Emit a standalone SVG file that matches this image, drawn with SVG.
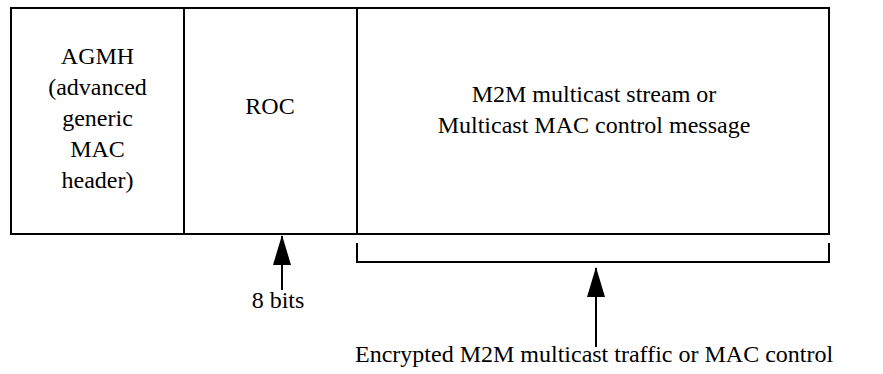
<svg xmlns="http://www.w3.org/2000/svg" width="883" height="374" viewBox="0 0 883 374">
  <defs>
    <style>
      .frame { fill: none; stroke: #000; stroke-width: 2; }
      .line { stroke: #000; stroke-width: 2; fill: none; }
      text { font-family: 'Liberation Serif', 'Times New Roman', 'DejaVu Serif', serif; font-size: 24px; fill: #000; }
      .mid { text-anchor: middle; }
    </style>
    <!-- filled triangular head, pointing along the line direction -->
    <marker id="arrowhead" viewBox="0 0 30 18" refX="29" refY="9" markerWidth="30" markerHeight="18" markerUnits="userSpaceOnUse" orient="auto">
      <path d="M30 9 L0 0 L0 18 Z" fill="#000"/>
    </marker>
  </defs>
  <rect x="0" y="0" width="883" height="374" fill="#fff"/>

  <!-- packet fields -->
  <g id="field-agmh">
    <rect class="frame" x="11" y="8" width="173" height="226"/>
    <text class="mid" x="97.5" y="64" font-family="Liberation Serif, serif">AGMH</text>
    <text class="mid" x="97.5" y="95" font-family="Liberation Serif, serif">(advanced</text>
    <text class="mid" x="97.5" y="126" font-family="Liberation Serif, serif">generic</text>
    <text class="mid" x="97.5" y="157" font-family="Liberation Serif, serif">MAC</text>
    <text class="mid" x="97.5" y="188" font-family="Liberation Serif, serif">header)</text>
  </g>
  <g id="field-roc">
    <rect class="frame" x="184" y="8" width="173" height="226"/>
    <text class="mid" x="270" y="114" font-family="Liberation Serif, serif">ROC</text>
  </g>
  <g id="field-payload">
    <rect class="frame" x="357" y="8" width="472" height="226"/>
    <text class="mid" x="594" y="102" font-family="Liberation Serif, serif">M2M multicast stream or</text>
    <text class="mid" x="594" y="133" font-family="Liberation Serif, serif">Multicast MAC control message</text>
  </g>

  <!-- span bracket under the payload -->
  <g id="payload-bracket">
    <path class="line" d="M357 243 V262 H829 V243"/>
  </g>

  <!-- annotation arrows -->
  <g id="connectors">
    <line class="line" x1="282" y1="290" x2="282" y2="236" marker-end="url(#arrowhead)"/>
    <line class="line" x1="596" y1="347" x2="596" y2="268" marker-end="url(#arrowhead)"/>
  </g>

  <g id="note-8bits">
    <text class="mid" x="278" y="308" font-family="Liberation Serif, serif">8 bits</text>
  </g>
  <g id="note-encrypted">
    <text x="355" y="362" font-family="Liberation Serif, serif">Encrypted M2M multicast traffic or MAC control</text>
  </g>
</svg>
